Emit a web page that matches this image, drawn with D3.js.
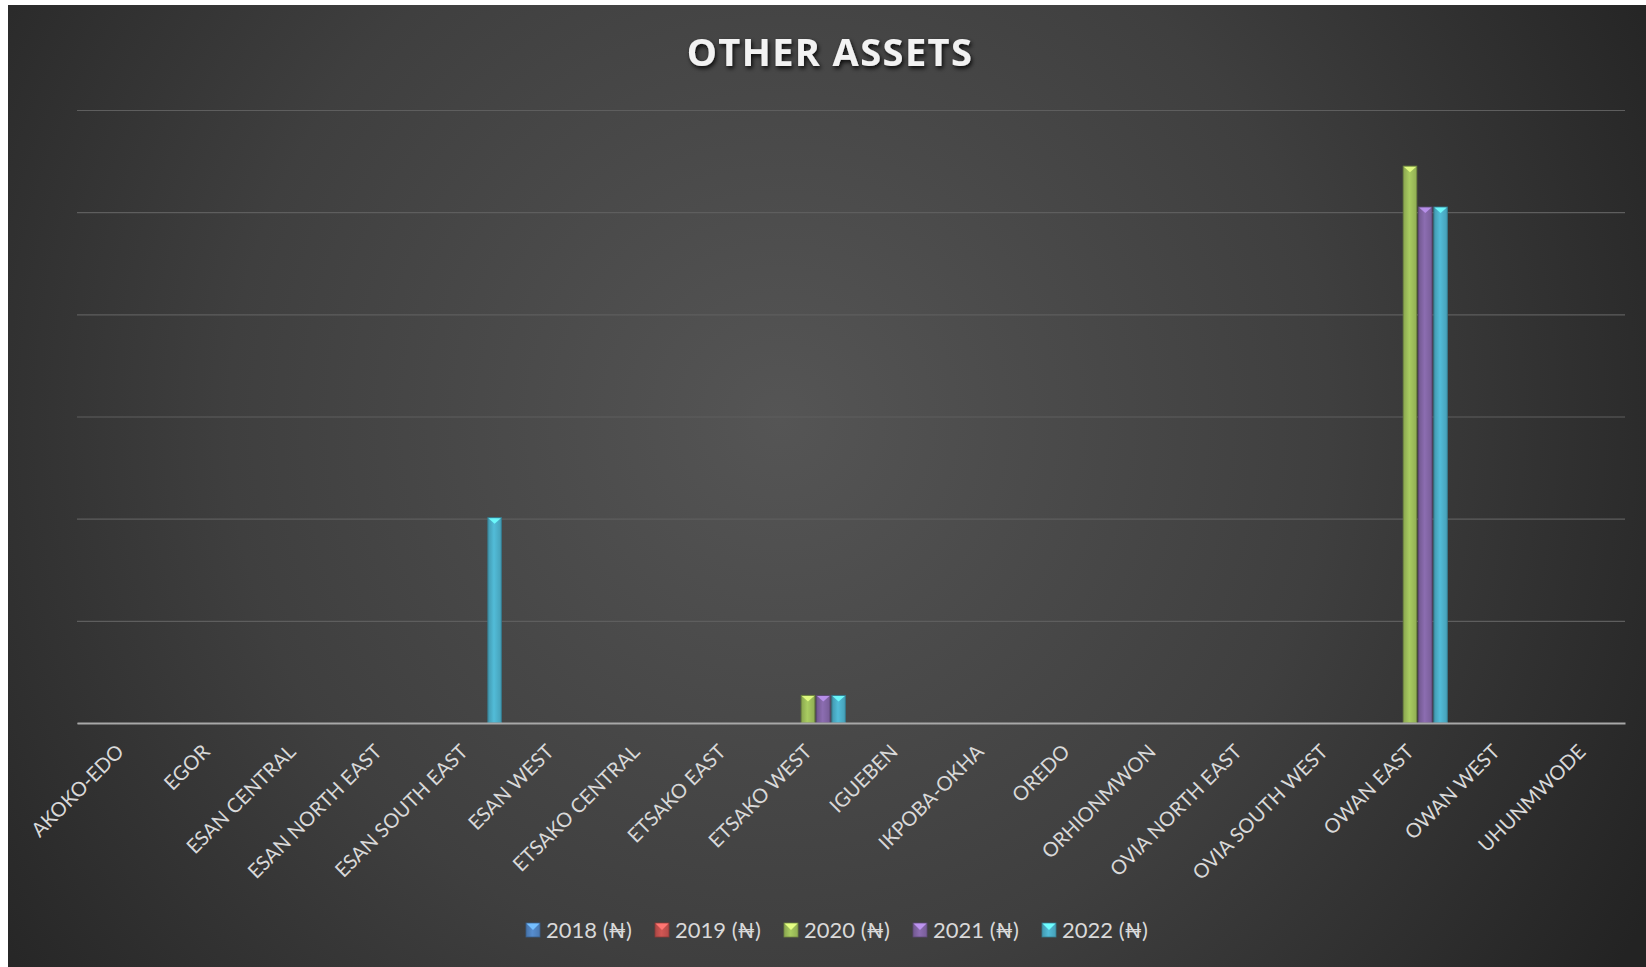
<!DOCTYPE html>
<html>
<head>
<meta charset="utf-8">
<script src="https://cdn.jsdelivr.net/npm/d3@7"></script>
<style>
  html, body { margin: 0; padding: 0; background: #ffffff; }
  svg { display: block; }
</style>
</head>
<body>
<svg id="chart" width="1646" height="967"></svg>
<script>
// Local government areas on the x axis
const categories = [
  "AKOKO-EDO", "EGOR", "ESAN CENTRAL", "ESAN NORTH EAST", "ESAN SOUTH EAST",
  "ESAN WEST", "ETSAKO CENTRAL", "ETSAKO EAST", "ETSAKO WEST", "IGUEBEN",
  "IKPOBA-OKHA", "OREDO", "ORHIONMWON", "OVIA NORTH EAST", "OVIA SOUTH WEST",
  "OWAN EAST", "OWAN WEST", "UHUNMWODE"
];

// Yearly values of other assets (₦)
const values2018 = [0, 0, 0, 0, 0, 0, 0, 0, 0, 0, 0, 0, 0, 0, 0, 0, 0, 0];
const values2019 = [0, 0, 0, 0, 0, 0, 0, 0, 0, 0, 0, 0, 0, 0, 0, 0, 0, 0];
const values2020 = [0, 0, 0, 0, 0, 0, 0, 0, 2700000, 0, 0, 0, 0, 0, 0, 54500000, 0, 0];
const values2021 = [0, 0, 0, 0, 0, 0, 0, 0, 2700000, 0, 0, 0, 0, 0, 0, 50500000, 0, 0];
const values2022 = [0, 0, 0, 0, 20100000, 0, 0, 0, 2700000, 0, 0, 0, 0, 0, 0, 50500000, 0, 0];

const seriesNames = ["2018 (₦)", "2019 (₦)", "2020 (₦)", "2021 (₦)", "2022 (₦)"];
const seriesValues = [values2018, values2019, values2020, values2021, values2022];
const yTicks = [0, 10000000, 20000000, 30000000, 40000000, 50000000, 60000000];

const colors = ["#4f81bd", "#c0504d", "#9bbb59", "#8064a2", "#4bacc6"];

const svg = d3.select("#chart");
const W = 1646, H = 967;
const frame = { x: 8, y: 5 };
const plot = { left: 77, right: 1625, top: 110, bottom: 723 };

const defs = svg.append("defs");

// Chart background: soft radial light in the middle, dark corners
const bg = defs.append("radialGradient")
  .attr("id", "bg").attr("gradientUnits", "userSpaceOnUse")
  .attr("cx", 780).attr("cy", 420).attr("r", 1000);
bg.append("stop").attr("offset", "0%").attr("stop-color", "#555555");
bg.append("stop").attr("offset", "55%").attr("stop-color", "#3f3f3f");
bg.append("stop").attr("offset", "100%").attr("stop-color", "#232323");

svg.append("rect")
  .attr("x", frame.x).attr("y", frame.y)
  .attr("width", W - frame.x).attr("height", H - frame.y)
  .attr("fill", "url(#bg)");

// Bar fills: darker edges, lighter middle
colors.forEach((c, i) => {
  const g = defs.append("linearGradient").attr("id", "bar" + i)
    .attr("x1", "0%").attr("x2", "100%").attr("y1", "0%").attr("y2", "0%");
  const base = d3.color(c);
  g.append("stop").attr("offset", "0%").attr("stop-color", base.darker(0.35));
  g.append("stop").attr("offset", "45%").attr("stop-color", base.brighter(0.25));
  g.append("stop").attr("offset", "100%").attr("stop-color", base.darker(0.2));
});

// Title shadow
const shadow = defs.append("filter").attr("id", "shadow")
  .attr("x", "-20%").attr("y", "-40%").attr("width", "140%").attr("height", "180%");
shadow.append("feDropShadow").attr("dx", 1.5).attr("dy", 2.5)
  .attr("stdDeviation", 2).attr("flood-color", "#000").attr("flood-opacity", 0.85);

// Scales
const x0 = d3.scaleBand().domain(categories).range([plot.left, plot.right]).padding(0);
const x1 = d3.scaleBand().domain(seriesNames).range([0, x0.bandwidth()])
  .paddingInner(0.12).paddingOuter(0.37);
const y = d3.scaleLinear().domain([0, 60000000]).range([plot.bottom, plot.top]);

// Gridlines
const grid = svg.append("g")
  .attr("transform", `translate(${plot.left},0)`)
  .call(d3.axisLeft(y).tickValues(yTicks).tickSize(-(plot.right - plot.left)).tickFormat(""));
grid.select(".domain").remove();
grid.selectAll(".tick line").attr("stroke", "#5e5e5e").attr("stroke-width", 1.2);

// Bars
const groups = svg.append("g").selectAll("g")
  .data(categories)
  .join("g")
  .attr("transform", d => `translate(${x0(d)},0)`);

const barData = (cat, ci) => seriesNames.map((s, si) => ({ s, si, v: seriesValues[si][ci] }));

groups.each(function (cat, ci) {
  const g = d3.select(this);
  const items = barData(cat, ci).filter(d => d.v > 0);
  g.selectAll("rect")
    .data(items)
    .join("rect")
    .attr("x", d => x1(d.s))
    .attr("y", d => y(d.v))
    .attr("width", x1.bandwidth())
    .attr("height", d => y(0) - y(d.v))
    .attr("fill", d => `url(#bar${d.si})`)
    .attr("stroke", d => d3.color(colors[d.si]).darker(0.9))
    .attr("stroke-width", 1);
  // bevelled cap at the top of each bar
  g.selectAll("path.cap")
    .data(items)
    .join("path")
    .attr("class", "cap")
    .attr("d", d => {
      const bx = x1(d.s), bw = x1.bandwidth(), by = y(d.v);
      return `M${bx + 0.5},${by + 0.5} L${bx + bw - 0.5},${by + 0.5} L${bx + bw / 2},${by + 6} Z`;
    })
    .attr("fill", d => d3.color(colors[d.si]).brighter(1.1))
    .attr("opacity", 0.9);
});

// Category axis
const xAxis = svg.append("g")
  .attr("transform", `translate(0,${plot.bottom})`)
  .call(d3.axisBottom(x0).tickSize(0).tickPadding(0));
xAxis.select(".domain").attr("stroke", "#a8a8a8").attr("stroke-width", 2.2);
xAxis.selectAll(".tick text")
  .attr("fill", "#d9d9d9")
  .attr("font-family", "Lato, 'Open Sans', sans-serif")
  .attr("font-size", 20)
  .attr("text-anchor", "end")
  .attr("dy", 0)
  .attr("transform", "translate(5,30) rotate(-45)");

// Title
svg.append("text")
  .attr("x", 830).attr("y", 66)
  .attr("text-anchor", "middle")
  .attr("fill", "#f2f2f2")
  .attr("font-family", "'Open Sans', sans-serif")
  .attr("font-weight", 700)
  .attr("font-size", 38)
  .attr("letter-spacing", 1.4)
  .attr("filter", "url(#shadow)")
  .text("OTHER ASSETS");

// Legend
const legendX = d3.scalePoint().domain(seriesNames).range([526, 1042]);
const legend = svg.append("g").selectAll("g")
  .data(seriesNames)
  .join("g")
  .attr("transform", d => `translate(${legendX(d)},930)`);
legend.append("rect")
  .attr("x", 0).attr("y", -7).attr("width", 14).attr("height", 14)
  .attr("fill", (d, i) => `url(#bar${i})`)
  .attr("stroke", (d, i) => d3.color(colors[i]).darker(0.9)).attr("stroke-width", 0.8);
legend.append("path")
  .attr("d", "M0.5,-6.5 L13.5,-6.5 L7,0 Z")
  .attr("fill", (d, i) => d3.color(colors[i]).brighter(1.1));
legend.append("text")
  .attr("x", 20).attr("y", 0).attr("dy", "0.36em")
  .attr("fill", "#d9d9d9")
  .attr("font-family", "Lato, 'Open Sans', sans-serif")
  .attr("font-size", 22)
  .text(d => d);
</script>
</body>
</html>
